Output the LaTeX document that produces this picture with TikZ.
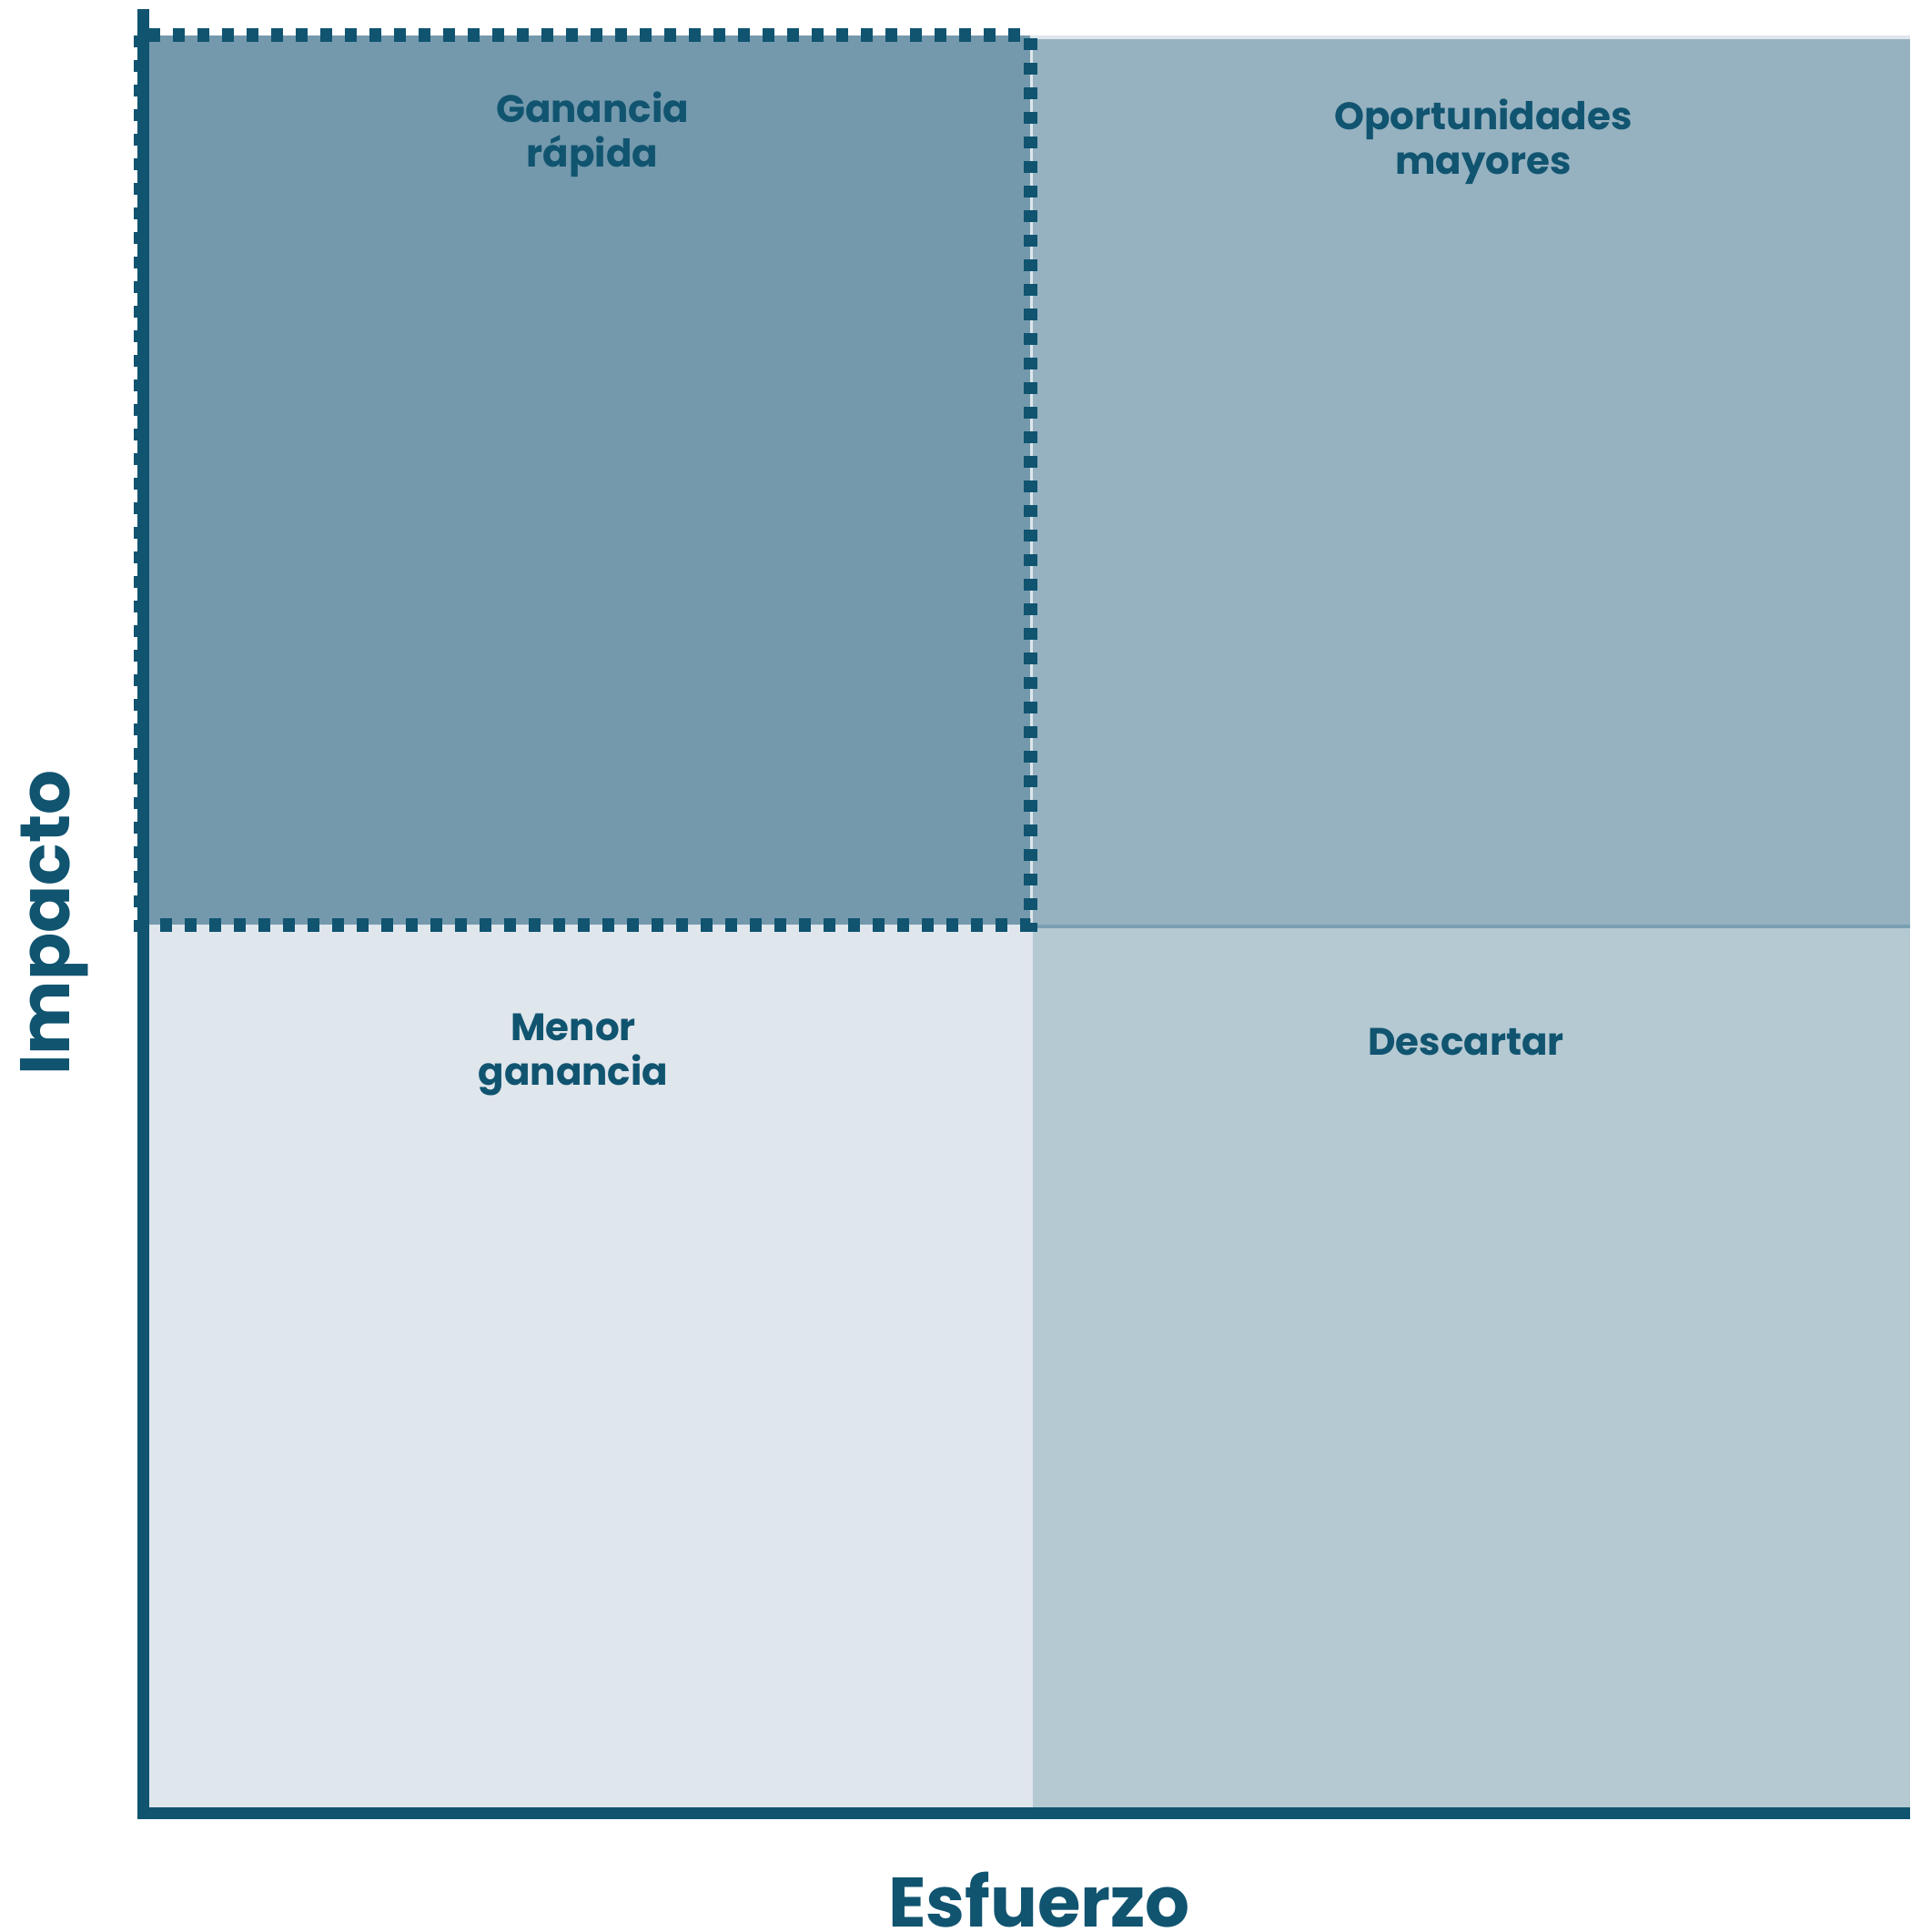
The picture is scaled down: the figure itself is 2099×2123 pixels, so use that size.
\documentclass[tikz,border=0pt]{standalone}
\usepackage{fontspec}
\setmainfont{Poppins}
\definecolor{bleu}{RGB}{16,84,112}
\definecolor{qhg}{RGB}{116,153,173}
\definecolor{qhd}{RGB}{150,178,193}
\definecolor{qbg}{RGB}{223,230,236}
\definecolor{qbd}{RGB}{181,201,211}
\definecolor{trait}{RGB}{122,159,178}
\tikzset{
  etiq/.style={text=bleu,font=\bfseries\fontsize{21}{24.5}\selectfont,align=center,inner sep=0pt,anchor=base},
  axe/.style={text=bleu,font=\bfseries\fontsize{38.5}{40}\selectfont,inner sep=0pt}
}
\begin{document}
\begin{tikzpicture}[x=0.5pt,y=-0.5pt]
\useasboundingbox (0,0) rectangle (2099,2123);
% les quatre quadrants
\fill[qbg] (164,39) rectangle (2099,1992);
\fill[qhg] (164,39) rectangle (1132,1016);
\fill[qhd] (1135,43) rectangle (2099,1016);
\fill[trait] (1135,1016) rectangle (2099,1020);
\fill[qbd] (1135,1020) rectangle (2099,1992);
% cadre pointille
\draw[bleu,line width=7.5pt,dash pattern=on 6.5pt off 7pt] (154,39) rectangle (1132,1016);
% axes
\draw[bleu,line width=6.5pt] (157.5,10) -- (157.5,1999);
\draw[bleu,line width=6.5pt] (151,1992.5) -- (2099,1992.5);
% textes (base = derniere ligne)
\node[etiq] (gr) at (651,184) {Ganancia\\rápida};
\node[etiq] (om) at (1630,192) {Oportunidades\\mayores};
\node[etiq] (mg) at (630,1192) {Menor\\ganancia};
\node[etiq] (de) at (1611,1159) {Descartar};
\node[axe,rotate=90] (imp) at (60,1014) {Impacto};
\node[axe,anchor=base] (esf) at (1142,2117) {Esfuerzo};
\end{tikzpicture}
\end{document}
